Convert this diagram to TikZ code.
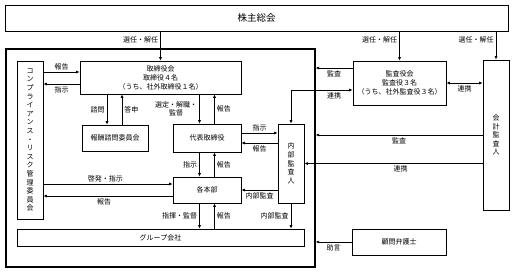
\documentclass[tikz,border=0pt]{standalone}
\usepackage{fontspec}
\setmainfont{Noto Sans CJK JP}
\usetikzlibrary{positioning, arrows.meta}

\begin{document}
\begin{tikzpicture}[
    x=1pt, y=-1pt,
    box/.style={draw, line width=0.6pt, inner sep=0pt, align=center, font=\fontsize{7}{9}\selectfont},
    tate/.style={box, font=\fontsize{7}{8.6}\selectfont},
    arr/.style={line width=0.7pt, -{Latex[length=3.5pt,width=3pt]}},
    arrs/.style={line width=0.7pt, {Latex[length=3.5pt,width=3pt]}-{Latex[length=3.5pt,width=3pt]}},
    lbl/.style={font=\fontsize{7}{8}\selectfont, inner sep=2pt, align=center}
]
\useasboundingbox (0,0) rectangle (516,274);

\node[box, minimum width=503pt, minimum height=26pt, font=\fontsize{9.5}{11}\selectfont] at (256.5,18) (kabu) {株主総会};
\node[draw, line width=1.2pt, minimum width=309pt, minimum height=218pt, inner sep=0pt] at (160.5,158) (kaisha) {};

% company side
\node[tate, minimum width=26pt, minimum height=158pt] at (30,140) (comp) {コ\\ン\\プ\\ラ\\イ\\ア\\ン\\ス\\・\\リ\\ス\\ク\\管\\理\\委\\員\\会};
\node[box, minimum width=161pt, minimum height=33pt] at (160.5,77.5) (tori) {取締役会\\取締役４名\\（うち、社外取締役１名）};
\node[box, minimum width=66pt, minimum height=26pt] at (115,138) (hoshu) {報酬諮問委員会};
\node[box, minimum width=68pt, minimum height=28pt] at (207,138) (daihyo) {代表取締役};
\node[box, minimum width=68pt, minimum height=26pt] at (207,190) (honbu) {各本部};
\node[tate, minimum width=26pt, minimum height=79pt] at (291,163.5) (naibu) {内\\部\\監\\査\\人};
\node[box, minimum width=287pt, minimum height=17pt] at (160.5,237.5) (group) {グループ会社};

% outside
\node[box, minimum width=93pt, minimum height=44pt] at (399.5,83) (kansa) {監査役会\\監査役３名\\（うち、社外監査役３名）};
\node[tate, minimum width=26pt, minimum height=150pt] at (496,135) (kaikei) {会\\計\\監\\査\\人};
\node[box, minimum width=94pt, minimum height=26pt] at (399,242) (komon) {顧問弁護士};

% shareholders
\draw[arr] (kabu.south -| tori.north) -- node[lbl, left, pos=0.3] {選任・解任} (tori.north);
\draw[arr] (kabu.south -| kansa.north) -- node[lbl, left, pos=0.3] {選任・解任} (kansa.north);
\draw[arr] (kabu.south -| kaikei.north) -- node[lbl, left, pos=0.3] {選任・解任} (kaikei.north);

% board
\draw[arr] ([yshift=5.5pt]tori.west -| comp.east) -- node[lbl, above] {報告} ([yshift=5.5pt]tori.west);
\draw[arr] ([yshift=-6.5pt]tori.west) -- node[lbl, below] {指示} ([yshift=-6.5pt]tori.west -| comp.east);
\draw[arr] ([xshift=-8pt]hoshu.north |- tori.south) -- node[lbl, left] {諮問} ([xshift=-8pt]hoshu.north);
\draw[arr] ([xshift=7pt]hoshu.north) -- node[lbl, right] {答申} ([xshift=7pt]hoshu.north |- tori.south);
\draw[arr] ([xshift=-7.5pt]daihyo.north |- tori.south) -- node[lbl, left] {選定・解職・\\監督} ([xshift=-7.5pt]daihyo.north);
\draw[arr] ([xshift=7.5pt]daihyo.north) -- node[lbl, right] {報告} ([xshift=7.5pt]daihyo.north |- tori.south);

% representative director
\draw[arr] ([yshift=5pt]daihyo.east) -- node[lbl, above] {指示} ([yshift=5pt]daihyo.east -| naibu.west);
\draw[arr] ([yshift=-5pt]daihyo.east -| naibu.west) -- node[lbl, below] {報告} ([yshift=-5pt]daihyo.east);
\draw[arr] ([xshift=-7.5pt]daihyo.south) -- node[lbl, left] {指示} ([xshift=-7.5pt]honbu.north);
\draw[arr] ([xshift=7.5pt]honbu.north) -- node[lbl, right] {報告} ([xshift=7.5pt]daihyo.south);

% divisions
\draw[arr] ([yshift=6pt]honbu.west -| comp.east) -- node[lbl, above, pos=0.48] {啓発・指示} ([yshift=6pt]honbu.west);
\draw[arr] ([yshift=-6pt]honbu.west) -- node[lbl, below, pos=0.53] {報告} ([yshift=-6pt]honbu.west -| comp.east);
\draw[arr] ([xshift=-7.5pt]honbu.south) -- node[lbl, left] {指揮・監督} ([xshift=-7.5pt]honbu.south |- group.north);
\draw[arr] ([xshift=7.5pt]honbu.south |- group.north) -- node[lbl, right] {報告} ([xshift=7.5pt]honbu.south);

% internal audit
\draw[arr] (honbu.east -| naibu.west) -- node[lbl, below] {内部監査} (honbu.east);
\draw[arr] (naibu.south) -- node[lbl, left] {内部監査} (naibu.south |- group.north);

% auditors
\draw[arr] ([yshift=15pt]kansa.west) -- node[lbl, below] {監査} ([yshift=15pt]kansa.west -| kaisha.east);
\draw[arrs] ([yshift=-7pt]kansa.west) -- node[lbl, below, pos=0.3] {連携} ([yshift=-7pt]kansa.west -| naibu.north) -- (naibu.north);
\draw[arrs] (kansa.east) -- node[lbl, below] {連携} (kansa.east -| kaikei.west);
\draw[arr] (kaikei.west) -- node[lbl, below] {監査} (kaikei.west -| kaisha.east);
\draw[arr] (naibu.east -| kaikei.west) -- node[lbl, below, pos=0.46] {連携} (naibu.east);
\draw[arr] (komon.west) -- node[lbl, below] {助言} (komon.west -| kaisha.east);

\end{tikzpicture}
\end{document}
